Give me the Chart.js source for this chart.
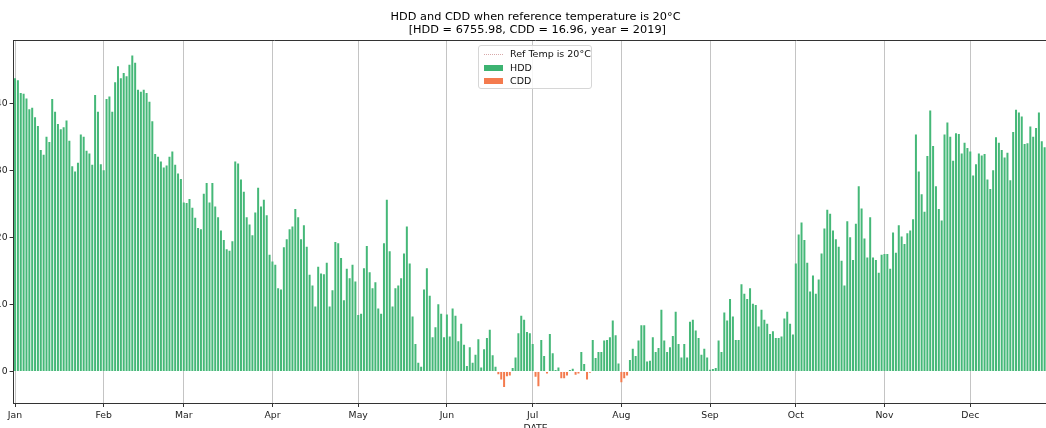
<!DOCTYPE html>
<html>
<head>
<meta charset="utf-8">
<script src="https://cdn.jsdelivr.net/npm/chart.js@4.4.0/dist/chart.umd.min.js"></script>
<style>
  html, body { margin: 0; padding: 0; background: #fff; }
  body { width: 1046px; height: 428px; overflow: hidden; position: relative; font-family: "DejaVu Sans", sans-serif; }
  #c { position: absolute; left: -30px; top: 0; }
  #legend {
    position: absolute; left: 478px; top: 45px; width: 112px; height: 42px;
    border: 1px solid #d6d6d6; border-radius: 3px; background: rgba(255,255,255,0.85);
    font-size: 9.5px; color: #111;
  }
  #legend .row { position: absolute; left: 0; height: 12px; line-height: 12px; }
  #legend .key { position: absolute; left: 5px; width: 19px; }
  #legend .txt { position: absolute; left: 31px; white-space: nowrap; }
  #legend .line { top: 6px; border-top: 1px dotted #d8a8a8; }
  #legend .patch { top: 3px; height: 6px; }
</style>
</head>
<body>
<canvas id="c" width="1098" height="434"></canvas>
<div id="legend">
  <div class="row" style="top:2px"><span class="key line"></span><span class="txt">Ref Temp is 20°C</span></div>
  <div class="row" style="top:16px"><span class="key patch" style="background:#3cb371"></span><span class="txt">HDD</span></div>
  <div class="row" style="top:29px"><span class="key patch" style="background:#f47b4e"></span><span class="txt">CDD</span></div>
</div>
<script>
const year = 2019;
const monthNames = ["Jan", "Feb", "Mar", "Apr", "May", "Jun", "Jul", "Aug", "Sep", "Oct", "Nov", "Dec"];

// daily HDD per month (°C·day)
const hddJan = [43.7, 43.4, 41.5, 41.4, 40.7, 39.1, 39.3, 37.9, 36.6, 33.0, 32.3, 35.0, 34.2, 40.6, 38.7, 36.9, 36.1, 36.4, 37.4, 34.4, 30.6, 29.8, 31.1, 35.3, 35.0, 32.9, 32.5, 30.8, 41.2, 38.7, 30.9];
const hddFeb = [30.0, 40.6, 41.0, 38.7, 43.1, 45.5, 43.7, 44.5, 44.0, 45.7, 47.1, 46.0, 42.0, 41.7, 42.0, 41.5, 40.2, 37.3, 32.4, 32.0, 31.3, 30.4, 30.7, 32.0, 32.8, 30.8, 29.5, 28.7];
const hddMar = [25.2, 25.1, 25.7, 24.4, 22.9, 21.4, 21.2, 26.5, 28.1, 25.2, 28.1, 24.6, 23.0, 21.0, 19.6, 18.2, 18.0, 19.4, 31.3, 31.0, 28.6, 26.8, 23.0, 21.9, 20.3, 23.7, 27.4, 24.6, 25.6, 23.3, 17.4];
const hddApr = [16.4, 15.9, 12.4, 12.2, 18.5, 19.7, 21.2, 21.6, 24.2, 23.0, 19.7, 21.8, 18.6, 14.4, 12.8, 9.7, 15.6, 14.6, 14.5, 16.2, 9.7, 12.1, 19.3, 19.1, 16.9, 10.6, 15.3, 13.9, 15.9, 13.4];
const hddMay = [8.4, 8.6, 15.4, 18.7, 14.8, 12.4, 13.3, 9.4, 8.6, 19.1, 25.6, 17.9, 9.7, 12.4, 12.8, 13.9, 17.6, 21.6, 16.1, 8.2, 4.1, 1.3, 0.7, 12.2, 15.4, 11.3, 5.1, 6.6, 10.0, 8.6, 5.1];
const hddJun = [8.5, 5.2, 9.4, 8.3, 4.5, 7.1, 4.0, 0.8, 3.6, 1.3, 2.5, 4.8, 0.6, 3.3, 5.0, 6.2, 2.4, 0.7, 0, 0, 0, 0, 0, 0.5, 2.1, 5.7, 8.3, 7.7, 5.9, 5.7];
const hddJul = [4.1, 0, 0, 4.7, 2.3, 0, 5.6, 2.7, 0.2, 0.6, 0, 0, 0, 0.2, 0.4, 0, 0, 2.9, 1.1, 0, 0, 4.7, 2.0, 2.9, 2.9, 4.6, 4.7, 5.1, 7.6, 5.4, 1.2];
const hddAug = [0, 0, 0, 1.7, 3.4, 2.3, 4.6, 6.9, 6.9, 1.5, 1.6, 5.1, 2.9, 3.5, 9.2, 4.6, 2.9, 3.6, 5.3, 8.9, 4.1, 2.1, 4.1, 2.1, 7.4, 7.7, 6.1, 5.0, 2.5, 3.4, 2.1];
const hddSep = [0.25, 0.35, 0.5, 4.6, 2.9, 8.8, 7.6, 10.8, 8.2, 4.7, 4.7, 13.0, 11.6, 10.8, 12.4, 10.1, 9.9, 6.7, 9.2, 7.7, 7.1, 5.6, 6.0, 5.0, 5.0, 5.2, 7.9, 8.9, 7.1, 5.5];
const hddOct = [16.1, 20.4, 22.2, 19.6, 16.2, 11.9, 14.3, 11.6, 13.7, 17.6, 21.3, 24.1, 23.5, 21.0, 19.7, 18.6, 16.5, 12.8, 22.4, 20.0, 16.6, 22.0, 27.6, 24.3, 19.8, 17.0, 23.0, 17.0, 16.6, 14.7, 17.4];
const hddNov = [17.5, 17.5, 15.3, 20.7, 17.7, 21.8, 20.1, 19.0, 20.6, 21.0, 22.7, 35.3, 29.8, 26.4, 23.8, 32.1, 38.9, 33.6, 27.6, 24.2, 22.5, 35.3, 37.1, 35.0, 31.4, 35.5, 35.4, 32.5, 34.1, 33.3];
const hddDec = [32.8, 29.2, 30.9, 32.5, 32.2, 32.4, 28.6, 27.2, 30.0, 34.9, 34.1, 33.0, 31.9, 32.6, 28.5, 35.7, 39.0, 38.6, 38.0, 33.9, 34.0, 36.5, 35.0, 36.3, 38.6, 34.3, 33.4, 40.8, 39.5, 37.8, 38.4];

// CDD days (plotted downwards)
const cddDates = ["2019-06-19", "2019-06-20", "2019-06-21", "2019-06-22", "2019-06-23", "2019-07-02", "2019-07-03", "2019-07-06", "2019-07-11", "2019-07-12", "2019-07-13", "2019-07-16", "2019-07-17", "2019-07-20", "2019-07-21", "2019-08-01", "2019-08-02", "2019-08-03"];
const cddValues = [0.4, 1.2, 2.3, 0.7, 0.6, 0.8, 2.2, 0.3, 1.0, 1.0, 0.6, 0.5, 0.3, 1.2, 0.2, 1.6, 1.0, 0.6];

const yTicks = [0, 10, 20, 30, 40];
const titleLines = ["HDD and CDD when reference temperature is 20°C", " [HDD = 6755.98, CDD = 16.96, year = 2019]"];

const hddByMonth = [hddJan, hddFeb, hddMar, hddApr, hddMay, hddJun, hddJul, hddAug, hddSep, hddOct, hddNov, hddDec];
const pad2 = n => String(n).padStart(2, "0");
const labels = [];
const hdd = [];
hddByMonth.forEach((vals, m) => vals.forEach((v, i) => {
  labels.push(`${year}-${pad2(m + 1)}-${pad2(i + 1)}`);
  hdd.push(v);
}));
const cdd = cddDates.map((d, i) => ({ x: d, y: -cddValues[i] }));

const isMonthStart = i => labels[i] && labels[i].endsWith("-01");
const font = { family: "DejaVu Sans", size: 9.3 };

// top + right spines like matplotlib's frame
const frame = {
  id: "frame",
  afterDraw(chart){
    const { ctx, chartArea: a } = chart;
    ctx.save();
    ctx.strokeStyle = "#333";
    ctx.lineWidth = 1;
    ctx.beginPath();
    ctx.moveTo(a.left, Math.round(a.top) + 0.5);
    ctx.lineTo(a.right, Math.round(a.top) + 0.5);
    ctx.lineTo(a.right, a.bottom);
    ctx.stroke();
    ctx.restore();
  }
};

new Chart(document.getElementById("c"), {
  type: "bar",
  data: {
    labels,
    datasets: [
      { label: "HDD", data: hdd, backgroundColor: "#45b878", grouped: false, barPercentage: 0.7, categoryPercentage: 1 },
      { label: "CDD", data: cdd, backgroundColor: "#f47b4e", grouped: false, barPercentage: 0.7, categoryPercentage: 1 },
    ],
  },
  options: {
    responsive: false,
    animation: false,
    layout: { padding: { left: 0, right: 10.5, top: 0, bottom: 0 } },
    plugins: {
      legend: { display: false },
      tooltip: { enabled: false },
      title: {
        display: true,
        fullSize: false,
        text: titleLines,
        color: "#000",
        font: { family: "DejaVu Sans", size: 11.3, weight: "normal", lineHeight: 1.2 },
        padding: { top: 10.2, bottom: 2.7 },
      },
    },
    scales: {
      x: {
        offset: true,
        grid: {
          offset: false,
          color: c => isMonthStart(c.index) ? "#c4c4c4" : "rgba(0,0,0,0)",
          lineWidth: c => isMonthStart(c.index) ? 1 : 0,
          tickColor: c => isMonthStart(c.index) ? "#333" : "rgba(0,0,0,0)",
          tickLength: 4,
        },
        border: { color: "#333", width: 1 },
        ticks: {
          autoSkip: false, maxRotation: 0, minRotation: 0, padding: 3, color: "#222", font,
          callback: (v, i) => isMonthStart(i) ? monthNames[Number(labels[i].slice(5, 7)) - 1] : "",
        },
        title: { display: true, text: "DATE", color: "#222", font, padding: 0 },
        afterFit: s => { s.height = 31; },
      },
      y: {
        min: -4.7,
        max: 49.4,
        afterBuildTicks: s => { s.ticks = yTicks.map(v => ({ value: v })); },
        grid: { drawOnChartArea: false, tickLength: 4, tickColor: "#333" },
        border: { color: "#333", width: 1 },
        ticks: { padding: 2, color: "#222", font, callback: v => String(v) },
        afterFit: s => { s.width = 43.6; },
      },
    },
  },
  plugins: [frame],
});
</script>
</body>
</html>
